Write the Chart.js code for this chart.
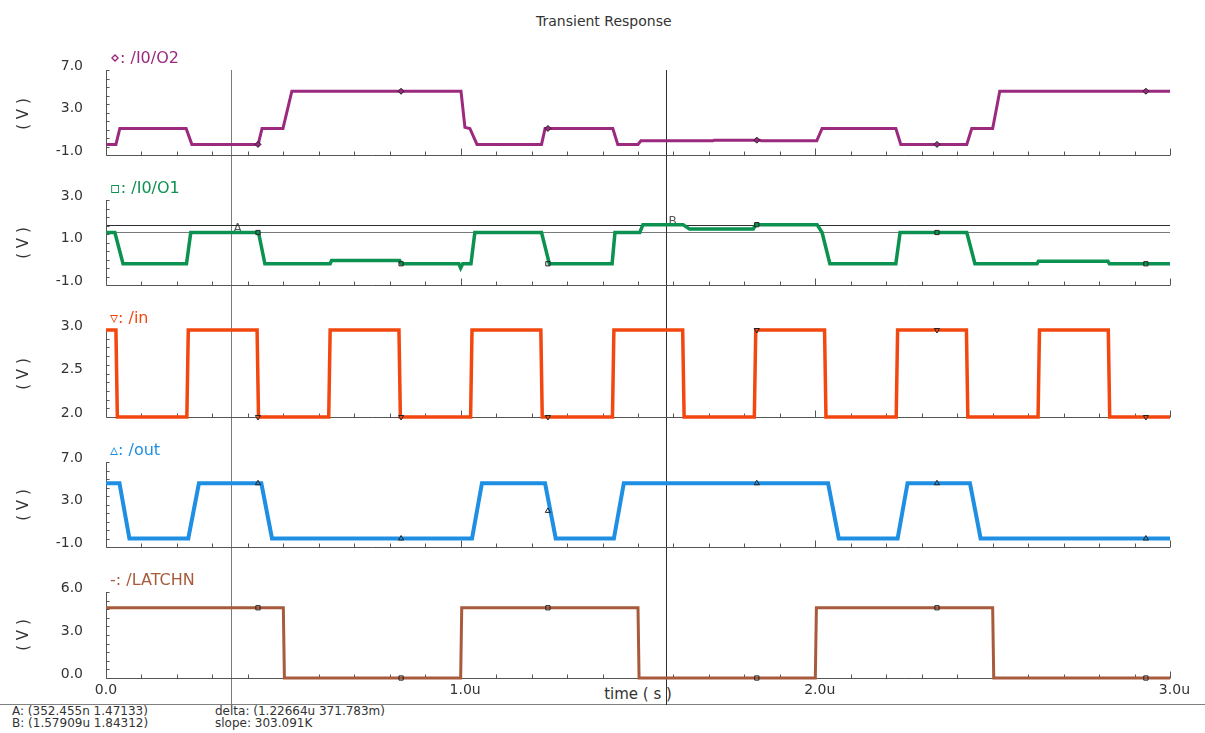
<!DOCTYPE html>
<html>
<head>
<meta charset="utf-8">
<title>Transient Response</title>
<script src="https://cdn.jsdelivr.net/npm/chart.js@4.4.1/dist/chart.umd.min.js"></script>
<style>
  body { margin: 0; width: 1205px; height: 733px; position: relative; overflow: hidden; background: #fff; font-family: "DejaVu Sans", sans-serif; color: #333; }
  .abs { position: absolute; white-space: nowrap; }
  .panel { position: absolute; left: 0; width: 1205px; }
  .legend { left: 110px; font-size: 16px; line-height: 16px; }
  .vlabel { width: 60px; font-size: 15px; line-height: 18px; text-align: center; transform: rotate(-90deg); }
  #title { left: 536px; top: 13px; font-size: 14px; line-height: 16px; }
  #xtitle { left: 538px; top: 686px; width: 200px; text-align: center; font-size: 15px; line-height: 16px; }
  #sep { left: 0; top: 704px; width: 1205px; height: 1px; background: #808080; }
  .readout { top: 705px; font-size: 12px; line-height: 12px; }
</style>
</head>
<body>
<div id="title" class="abs">Transient Response</div>
<div id="xtitle" class="abs">time ( s )</div>
<div id="sep" class="abs"></div>
<div class="abs readout" style="left:12px">A: (352.455n 1.47133)<br>B: (1.57909u 1.84312)</div>
<div class="abs readout" style="left:215px">delta: (1.22664u 371.783m)<br>slope: 303.091K</div>
<script>
// time axis is in microseconds
const timeMin = 0;
const timeMax = 3;
const timeTicks = [0, 1, 2, 3];
const timeLabels = ["0.0", "1.0u", "2.0u", "3.0u"];

// /I0/O2
const o2Times = [0, 0.028, 0.039, 0.226, 0.242, 0.429, 0.44, 0.499, 0.524, 1.001, 1.012, 1.026, 1.046, 1.228, 1.238, 1.429,
  1.443, 1.5, 1.508, 1.711, 1.715, 1.844, 1.848, 2.004, 2.019, 2.227, 2.241, 2.427, 2.441, 2.5, 2.52, 3.0];
const o2Volts = [0, 0, 1.5, 1.5, 0, 0, 1.5, 1.5, 5, 5, 1.6, 1.5, 0, 0, 1.5, 1.5,
  0, 0, 0.33, 0.33, 0.4, 0.4, 0.33, 0.33, 1.5, 1.5, 0, 0, 1.5, 1.5, 5, 5];
const o2Ticks = [-1, 3, 7];

// /I0/O1
const o1Times = [0, 0.025, 0.048, 0.227, 0.239, 0.43, 0.448, 0.632, 0.636, 0.828, 0.832, 0.995, 1.0, 1.006, 1.029, 1.04,
  1.228, 1.25, 1.427, 1.435, 1.505, 1.514, 1.627, 1.645, 1.825, 1.832, 2.005, 2.019, 2.041, 2.227, 2.239, 2.427,
  2.45, 2.625, 2.629, 2.825, 2.829, 3.0];
const o1Volts = [1.47, 1.47, 0, 0, 1.47, 1.47, 0, 0, 0.15, 0.15, 0, 0, -0.2, 0, 0, 1.47,
  1.47, 0, 0, 1.47, 1.47, 1.84, 1.84, 1.64, 1.64, 1.84, 1.84, 1.47, 0, 0, 1.47, 1.47,
  0, 0, 0.12, 0.12, 0, 0];
const o1Ticks = [-1, 1, 3];

// /in
const inTimes = [0, 0.028, 0.032, 0.228, 0.232, 0.426, 0.43, 0.628, 0.632, 0.826, 0.83, 1.028, 1.032, 1.226, 1.23, 1.428,
  1.432, 1.626, 1.63, 1.828, 1.832, 2.026, 2.03, 2.228, 2.232, 2.426, 2.43, 2.628, 2.632, 2.826, 2.83, 3.0];
const inVolts = [3, 3, 2, 2, 3, 3, 2, 2, 3, 3, 2, 2, 3, 3, 2, 2,
  3, 3, 2, 2, 3, 3, 2, 2, 3, 3, 2, 2, 3, 3, 2, 2];
const inTicks = [2, 2.5, 3];

// /out
const outTimes = [0, 0.038, 0.066, 0.232, 0.262, 0.438, 0.468, 1.032, 1.06, 1.238, 1.268, 1.432, 1.46, 2.036, 2.066, 2.232,
  2.26, 2.436, 2.466, 3.0];
const outVolts = [5, 5, -0.2, -0.2, 5, 5, -0.2, -0.2, 5, 5, -0.2, -0.2, 5, 5, -0.2, -0.2,
  5, 5, -0.2, -0.2];
const outTicks = [-1, 3, 7];

// /LATCHN
const latTimes = [0, 0.5, 0.503, 1.0, 1.003, 1.5, 1.503, 2.0, 2.003, 2.5, 2.503, 3.0];
const latVolts = [4.9, 4.9, 0, 0, 4.9, 4.9, 0, 0, 4.9, 4.9, 0, 0];
const latTicks = [0, 3, 6];

// trace symbols
const markTimes = [0.4285, 0.832, 1.246, 1.835, 2.343, 2.932];
const o2Marks = [0, 5, 1.5, 0.4, 0, 5];
const o1Marks = [1.47, 0, 0, 1.84, 1.47, 0];
const inMarks = [2, 2, 2, 3, 3, 2];
const outMarks = [5, -0.2, 2.4, 5, 5, -0.2];
const latMarks = [4.9, 0, 4.9, 0, 4.9, 0];

const cursorA = { name: "A", t: 0.352455, v: 1.47133, color: "#7a7a7a" };
const cursorB = { name: "B", t: 1.57909, v: 1.84312, color: "#2e2e2e" };

const panels = [
  { label: "/I0/O2", symbol: "\u22c4", color: "#9b2a7f", times: o2Times, volts: o2Volts, marks: o2Marks, markStyle: "rectRot", markFill: "#9b2a7f", yTicks: o2Ticks, top: 30, height: 130, padBottom: 3, lineWidth: 3 },
  { label: "/I0/O1", symbol: "\u25ab", color: "#0b9150", times: o1Times, volts: o1Volts, marks: o1Marks, markStyle: "rect", markFill: "rgba(0,0,0,0)", yTicks: o1Ticks, top: 160, height: 130, padBottom: 4, lineWidth: 3.5, cursorValues: true },
  { label: "/in", symbol: "\u25bf", color: "#f2470f", times: inTimes, volts: inVolts, marks: inMarks, markStyle: "triangle", markRotation: 180, markFill: "rgba(0,0,0,0)", yTicks: inTicks, top: 290, height: 132, padBottom: 4, lineWidth: 3.5 },
  { label: "/out", symbol: "\u25b5", color: "#1e8fe3", times: outTimes, volts: outVolts, marks: outMarks, markStyle: "triangle", markFill: "rgba(0,0,0,0)", yTicks: outTicks, top: 422, height: 130, padBottom: 5, lineWidth: 4 },
  { label: "/LATCHN", symbol: "-", color: "#a85a3c", times: latTimes, volts: latVolts, marks: latMarks, markStyle: "rect", markFill: "rgba(0,0,0,0)", yTicks: latTicks, top: 552, height: 153, padBottom: 27, lineWidth: 3, timeLabels: true }
];

Chart.defaults.font.family = "'DejaVu Sans', sans-serif";
Chart.defaults.color = "#333";

// axes with inward ticks plus the two cursors, drawn under the traces
const scopeFrame = {
  id: "scopeFrame",
  beforeDatasetsDraw(chart, args, opts) {
    const { ctx, chartArea: a, scales: { x, y } } = chart;
    ctx.save();
    ctx.lineWidth = 1;
    const top = opts.first ? a.top : 0;
    [cursorA, cursorB].forEach((c) => {
      const px = Math.round(x.getPixelForValue(c.t)) + 0.5;
      ctx.strokeStyle = c.color;
      ctx.beginPath();
      ctx.moveTo(px, top);
      ctx.lineTo(px, chart.height);
      ctx.stroke();
      if (opts.cursorValues) {
        const py = Math.round(y.getPixelForValue(c.v)) + 0.5;
        ctx.beginPath();
        ctx.moveTo(a.left, py);
        ctx.lineTo(a.right, py);
        ctx.stroke();
        ctx.fillStyle = "#555";
        ctx.font = "12px 'DejaVu Sans'";
        ctx.fillText(c.name, px + 2, py - 1);
      }
    });

    ctx.strokeStyle = "#555";
    ctx.beginPath();
    const left = Math.round(a.left) + 0.5;
    const bottom = Math.round(a.bottom) + 0.5;
    ctx.moveTo(left, a.top);
    ctx.lineTo(left, bottom);
    ctx.lineTo(a.right, bottom);
    for (let i = 1; i <= 30; i++) {
      const px = Math.round(x.getPixelForValue(i / 10)) + 0.5;
      const len = i % 10 === 0 ? 7 : 4;
      ctx.moveTo(px, bottom);
      ctx.lineTo(px, bottom - len);
    }
    const yMin = y.min;
    const yStep = (y.max - y.min) / 10;
    for (let i = 0; i <= 10; i++) {
      const py = Math.round(y.getPixelForValue(yMin + i * yStep)) + 0.5;
      ctx.moveTo(left, py);
      ctx.lineTo(left + 3, py);
    }
    ctx.stroke();

    if (opts.timeLabels) {
      // number centred on the tick, unit suffix trailing after it
      ctx.fillStyle = "#333";
      ctx.font = "14px 'DejaVu Sans'";
      ctx.textAlign = "left";
      ctx.textBaseline = "middle";
      timeTicks.forEach((t, k) => {
        const num = timeLabels[k].replace(/u$/, "");
        const w = ctx.measureText(num).width;
        ctx.fillText(timeLabels[k], x.getPixelForValue(t) - w / 2, a.bottom + 12);
      });
    }
    ctx.restore();
  }
};

function addText(cls, text, left, top, color) {
  const el = document.createElement("div");
  el.className = "abs " + cls;
  el.textContent = text;
  el.style.left = left + "px";
  el.style.top = top + "px";
  if (color) el.style.color = color;
  document.body.appendChild(el);
}

panels.forEach((p, i) => {
  const box = document.createElement("div");
  box.className = "panel";
  box.style.top = p.top + "px";
  box.style.height = p.height + "px";
  const canvas = document.createElement("canvas");
  box.appendChild(canvas);
  document.body.appendChild(box);

  const areaTop = p.top + 40;
  const areaBottom = p.top + p.height - p.padBottom;
  addText("legend", p.symbol + ": " + p.label, 110, areaTop - 20, p.color);
  addText("vlabel", "( V )", -7, (areaTop + areaBottom) / 2 - 9);

  new Chart(canvas, {
    type: "scatter",
    data: {
      datasets: [
        {
          data: p.times.map((t, k) => ({ x: t, y: p.volts[k] })),
          showLine: true,
          borderColor: p.color,
          borderWidth: p.lineWidth,
          pointRadius: 0,
          clip: 6,
          order: 2
        },
        {
          data: markTimes.map((t, k) => ({ x: t, y: p.marks[k] })),
          showLine: false,
          pointStyle: p.markStyle,
          pointRotation: p.markRotation || 0,
          pointRadius: 3,
          backgroundColor: p.markFill,
          borderColor: "#222",
          borderWidth: 1,
          clip: 6,
          order: 1
        }
      ]
    },
    options: {
      responsive: true,
      maintainAspectRatio: false,
      animation: false,
      events: [],
      layout: { padding: { top: 40, right: 35, bottom: p.padBottom, left: 0 } },
      plugins: {
        legend: { display: false },
        tooltip: { enabled: false },
        scopeFrame: { first: i === 0, cursorValues: !!p.cursorValues, timeLabels: !!p.timeLabels }
      },
      scales: {
        x: {
          type: "linear",
          min: timeMin,
          max: timeMax,
          display: false
        },
        y: {
          min: p.yTicks[0],
          max: p.yTicks[p.yTicks.length - 1],
          grid: { display: false, drawTicks: false },
          border: { display: false },
          afterBuildTicks: (s) => { s.ticks = p.yTicks.map((value) => ({ value })); },
          afterFit: (s) => {
            s.width = 106;
            s.paddingTop = 0;
            s.paddingBottom = 0;
          },
          ticks: {
            callback: (v) => v.toFixed(1),
            padding: 23,
            labelOffset: -4,
            font: { size: 14 }
          }
        }
      }
    },
    plugins: [scopeFrame]
  });
});
</script>
</body>
</html>
